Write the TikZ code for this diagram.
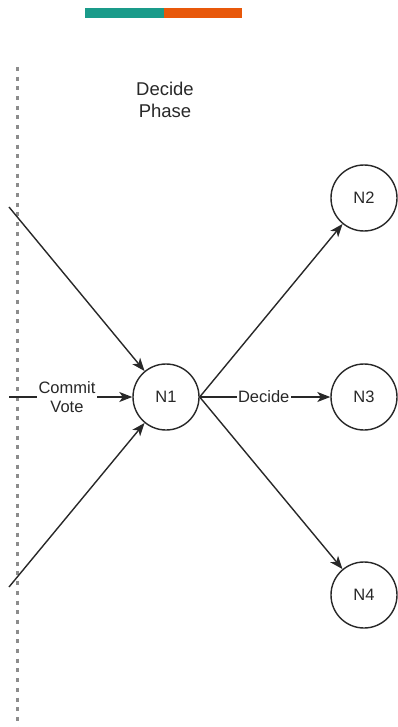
\documentclass[tikz,border=0pt]{standalone}
\usepackage{fontspec}
\setmainfont{Liberation Sans}
\usetikzlibrary{arrows.meta}
\definecolor{tealbar}{RGB}{26,155,138}
\definecolor{orangebar}{RGB}{232,88,10}
\definecolor{ink}{RGB}{40,40,40}
\definecolor{divider}{RGB}{140,140,140}
\begin{document}
\begin{tikzpicture}[x=1pt,y=-1pt,
  peer/.style={circle,draw=ink,line width=1.4pt,minimum size=66pt,inner sep=0pt,
    font=\fontsize{16.5}{18}\selectfont,text=ink},
  msg/.style={draw=ink,line width=1.4pt,-{Stealth[length=13pt,width=10pt,inset=3.5pt]}},
  tag/.style={fill=white,inner sep=1.5pt,font=\fontsize{16.5}{19}\selectfont,text=ink,align=center}]
\useasboundingbox (0,0) rectangle (398,727);

% colour bar
\fill[tealbar] (85,8) rectangle (164,18);
\fill[orangebar] (164,8) rectangle (242,18);

% phase divider
\draw[divider,line width=2.2pt,dash pattern=on 4pt off 5.7pt] (17.5,67) -- (17.5,727);

% title
\node[font=\fontsize{18.5}{22}\selectfont,text=ink,align=center] (title) at (165,100) {Decide\\Phase};

% peers
\node[peer] (n1) at (166,397) {N1};
\node[peer] (n2) at (364,198) {N2};
\node[peer] (n3) at (364,397) {N3};
\node[peer] (n4) at (364,595) {N4};

% incoming messages
\coordinate (inA) at (9,207);
\coordinate (inB) at (9,397);
\coordinate (inC) at (9,587);
\draw[msg] (inA) -- (n1);
\draw[msg] (inC) -- (n1);
\draw[msg] (inB) -- node[tag,pos=0.47] (cv) {Commit\\Vote} (n1);

% outgoing decisions
\draw[msg] (n1.east) -- (n2);
\draw[msg] (n1.east) -- node[tag,pos=0.49] (dc) {Decide} (n3);
\draw[msg] (n1.east) -- (n4);
\end{tikzpicture}
\end{document}
